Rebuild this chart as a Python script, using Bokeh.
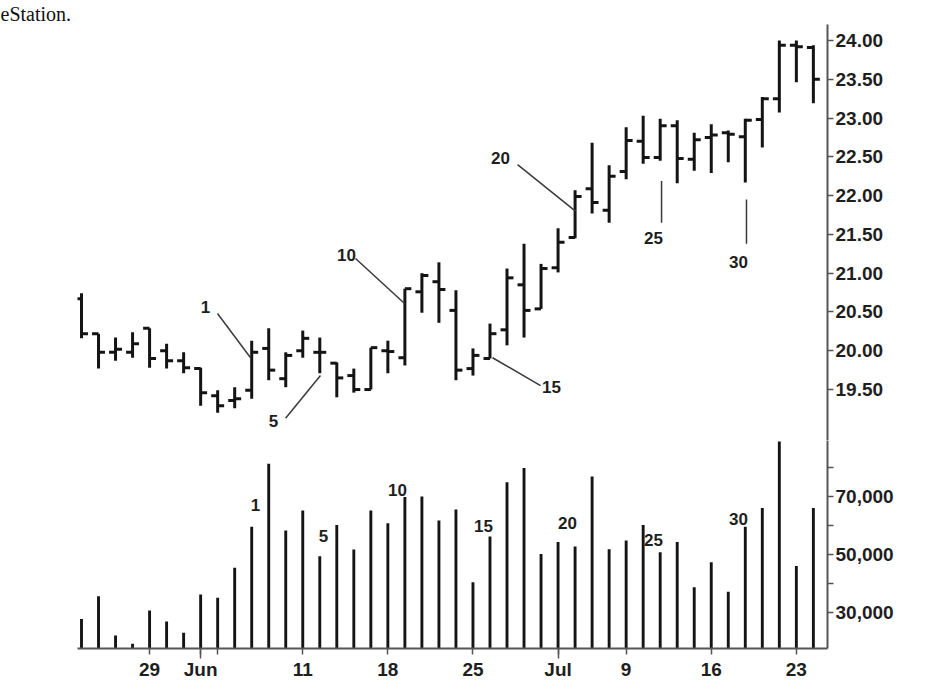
from bokeh.plotting import figure
from bokeh.models import FixedTicker, NumeralTickFormatter, Range1d, ColumnDataSource, Title
from bokeh.layouts import column
from bokeh.core.properties import value
from bokeh.embed import file_html
from bokeh.resources import INLINE

# ---------------- data ----------------
dates = ["May 22", "May 23", "May 24", "May 25", "May 29", "May 30", "May 31",
         "Jun 1", "Jun 4", "Jun 5", "Jun 6", "Jun 7", "Jun 8",
         "Jun 11", "Jun 12", "Jun 13", "Jun 14", "Jun 15",
         "Jun 18", "Jun 19", "Jun 20", "Jun 21", "Jun 22",
         "Jun 25", "Jun 26", "Jun 27", "Jun 28", "Jun 29",
         "Jul 2", "Jul 3", "Jul 5", "Jul 6",
         "Jul 9", "Jul 10", "Jul 11", "Jul 12", "Jul 13",
         "Jul 16", "Jul 17", "Jul 18", "Jul 19", "Jul 20",
         "Jul 23", "Jul 24"]

highs = [20.74, 20.22, 20.17, 20.24, 20.29, 20.09, 19.98, 19.78, 19.49, 19.53,
         20.13, 20.29, 19.98, 20.26, 20.17, 19.85, 19.77, 20.04, 20.13, 20.80,
         21.00, 21.14, 20.78, 20.03, 20.35, 21.06, 21.38, 21.12, 21.58, 22.07,
         22.68, 22.39, 22.88, 23.03, 22.99, 22.97, 22.81, 22.92, 22.84, 22.99,
         23.27, 24.00, 24.00, 23.94]
lows = [20.16, 19.77, 19.87, 19.91, 19.78, 19.77, 19.71, 19.29, 19.20, 19.26,
        19.38, 19.62, 19.53, 19.91, 19.71, 19.40, 19.46, 19.50, 19.71, 19.81,
        20.49, 20.36, 19.62, 19.68, 19.90, 20.07, 20.17, 20.54, 21.01, 21.45,
        21.77, 21.65, 22.21, 22.41, 22.45, 22.16, 22.32, 22.29, 22.43, 22.17,
        22.62, 23.07, 23.46, 23.19]
opens = [20.67, 20.22, 19.98, 19.98, 20.29, 20.00, 19.87, 19.77, 19.42, 19.36,
         19.49, 20.03, 19.64, 20.00, 19.98, 19.84, 19.68, 19.50, 20.00, 19.91,
         20.76, 20.89, 20.52, 19.77, 19.90, 20.27, 20.85, 20.54, 21.07, 21.46,
         22.09, 21.81, 22.31, 22.70, 22.49, 22.90, 22.47, 22.75, 22.81, 22.76,
         22.98, 23.25, 23.94, 23.91]
closes = [20.22, 19.98, 20.02, 20.09, 19.90, 19.87, 19.78, 19.46, 19.29, 19.38,
          19.98, 19.75, 19.94, 20.16, 19.98, 19.65, 19.50, 20.04, 19.99, 20.80,
          20.97, 20.79, 19.75, 19.94, 20.22, 20.94, 20.52, 21.06, 21.40, 21.99,
          21.91, 22.25, 22.71, 22.49, 22.90, 22.48, 22.72, 22.78, 22.79, 22.97,
          23.25, 23.94, 23.92, 23.50]
volume = [27800, 35600, 22100, 19200, 30700, 26900, 23000, 36200, 35100, 45400,
          59600, 81300, 58300, 65200, 49400, 60200, 51700, 65200, 60800, 69800,
          70000, 61700, 65500, 40400, 56200, 74900, 79800, 50200, 54300, 52800,
          76900, 51800, 54800, 60200, 50800, 54300, 38700, 47300, 37200, 59600,
          66000, 89000, 46000, 66000]

tick_idx = [4, 7, 8, 13, 18, 23, 28, 32, 37, 42]
tick_labels = ["29", "Jun", "", "11", "18", "25", "Jul", "9", "16", "23"]
month_idx = [7, 28]

price_ticks = [19.5, 20.0, 20.5, 21.0, 21.5, 22.0, 22.5, 23.0, 23.5, 24.0]
vol_ticks = [30000, 50000, 70000]
vol_minor = [40000, 60000, 80000]

caption = "eStation."

# numbered bar annotations (label, text position, leader line start/end)
ann_text = ["1", "5", "10", "15", "20", "25", "30"]
ann_tx = [7.29, 11.28, 15.57, 27.61, 24.62, 33.61, 38.60]
ann_ty = [20.56, 19.10, 21.23, 19.53, 22.49, 21.45, 21.15]
ann_x0 = [7.99, 11.99, 16.10, 26.97, 25.62, 34.08, 39.07]
ann_y0 = [20.48, 19.13, 21.19, 19.55, 22.40, 22.19, 21.95]
ann_x1 = [9.93, 14.04, 18.98, 24.15, 29.02, 34.08, 39.07]
ann_y1 = [19.91, 19.68, 20.61, 19.91, 21.80, 21.65, 21.38]
vann_x = [10.22, 14.22, 18.57, 23.62, 28.55, 33.61, 38.60]
vann_y = [66900, 56550, 72070, 60000, 61030, 54830, 62410]

# ---------------- styling ----------------
INK = "#141414"
AX = "#555555"
FONT = "Liberation Sans"
X_LO, X_HI = -0.235, 43.83
P_LO, P_HI = 18.843, 24.206
V_LO, V_HI = 17590, 89310

xr = Range1d(X_LO, X_HI)
n = len(dates)
xs = list(range(n))
src = ColumnDataSource(dict(
    x=xs, xl=[i - 0.38 for i in xs], xr=[i + 0.38 for i in xs],
    o=opens, h=highs, l=lows, c=closes, v=volume))


def style_yaxis(ax):
    ax.axis_line_color = AX
    ax.axis_line_width = 2
    ax.major_tick_line_color = AX
    ax.major_tick_line_width = 1.5
    ax.major_tick_out = 6
    ax.major_tick_in = 0
    ax.minor_tick_line_color = AX
    ax.minor_tick_line_width = 1.5
    ax.minor_tick_out = 6
    ax.minor_tick_in = 0
    ax.major_label_text_font = FONT
    ax.major_label_text_font_style = "bold"
    ax.major_label_text_font_size = "19px"
    ax.major_label_text_color = "#1e1e1e"
    ax.major_label_standoff = 2


top = figure(x_range=xr, y_range=Range1d(P_LO, P_HI), frame_width=750, frame_height=416,
             y_axis_location="right", x_axis_location=None, toolbar_location=None,
             output_backend="svg", min_border_left=77, min_border_right=100,
             min_border_top=24, min_border_bottom=0)
top.title = Title(text=caption, align="left", offset=-77, standoff=0,
                  text_font="Liberation Serif", text_font_style="normal",
                  text_font_size="20px", text_color="#111111")
top.outline_line_color = None
top.grid.visible = False
style_yaxis(top.yaxis[0])
top.yaxis[0].ticker = FixedTicker(ticks=price_ticks, minor_ticks=[])
top.yaxis[0].formatter = NumeralTickFormatter(format="0.00")

top.segment(x0="x", y0="l", x1="x", y1="h", source=src, line_width=3, line_color=INK)
top.segment(x0="xl", y0="o", x1="x", y1="o", source=src, line_width=3, line_color=INK)
top.segment(x0="x", y0="c", x1="xr", y1="c", source=src, line_width=3, line_color=INK)

top.segment(x0=ann_x0, y0=ann_y0, x1=ann_x1, y1=ann_y1, line_width=1.5, line_color="#3a3a3a")
top.text(x=ann_tx, y=ann_ty, text=ann_text, text_font=value(FONT), text_font_style="bold",
         text_font_size="17px", text_align="center", text_baseline="middle", text_color="#1e1e1e")

bot = figure(x_range=xr, y_range=Range1d(V_LO, V_HI), frame_width=750, frame_height=208,
             y_axis_location="right", x_axis_location="below", toolbar_location=None,
             output_backend="svg", min_border_left=77, min_border_right=100,
             min_border_top=0, min_border_bottom=40)
bot.outline_line_color = None
bot.grid.visible = False
style_yaxis(bot.yaxis[0])
bot.yaxis[0].ticker = FixedTicker(ticks=vol_ticks, minor_ticks=vol_minor)
bot.yaxis[0].formatter = NumeralTickFormatter(format="0,0")

xa = bot.xaxis[0]
xa.ticker = FixedTicker(ticks=tick_idx, minor_ticks=month_idx)
xa.major_label_overrides = {i: t for i, t in zip(tick_idx, tick_labels)}
xa.axis_line_color = AX
xa.axis_line_width = 2
xa.major_tick_line_color = AX
xa.major_tick_line_width = 1.5
xa.major_tick_out = 6
xa.major_tick_in = 0
xa.minor_tick_line_color = AX
xa.minor_tick_line_width = 1.5
xa.minor_tick_out = 10
xa.minor_tick_in = 0
xa.major_label_text_font = FONT
xa.major_label_text_font_style = "bold"
xa.major_label_text_font_size = "19px"
xa.major_label_text_color = "#1e1e1e"
xa.major_label_standoff = 0

bot.vbar(x="x", top="v", bottom=0, width=0.17, source=src, fill_color=INK, line_color=None)
bot.text(x=vann_x, y=vann_y, text=ann_text, text_font=value(FONT), text_font_style="bold",
         text_font_size="17px", text_align="center", text_baseline="middle", text_color="#1e1e1e")

layout = column(top, bot, spacing=0)
open("out.html", "w").write(file_html(layout, INLINE))
